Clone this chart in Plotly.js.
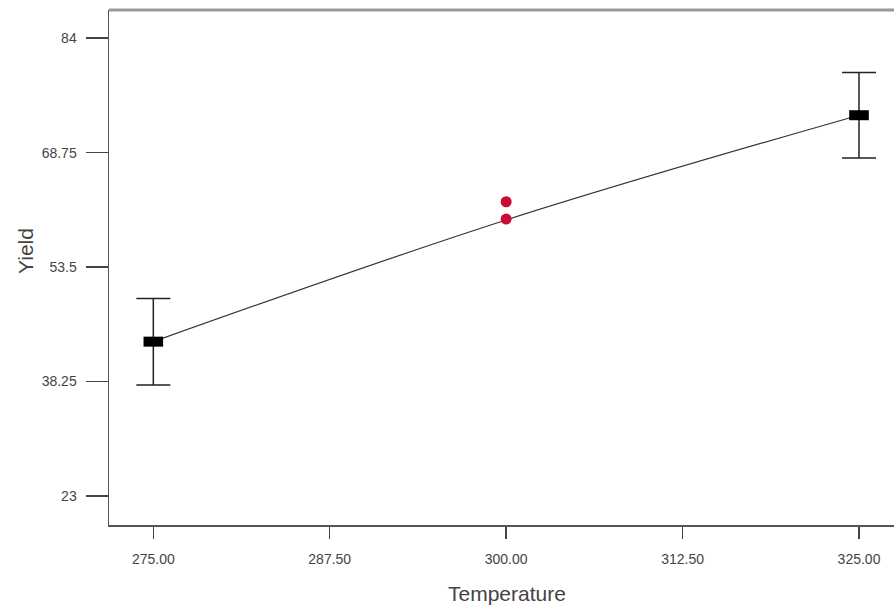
<!DOCTYPE html>
<html>
<head>
<meta charset="utf-8">
<script src="https://cdn.plot.ly/plotly-3.0.1.min.js"></script>
<style>html,body{margin:0;padding:0;background:#fff;}#chart{width:894px;height:606px;}</style>
</head>
<body>
<div id="chart"></div>
<script>
// Design points (factor levels) with mean yield and error-bar half width
const designTemps = [275, 325];
const designYield = [43.56, 73.73];
const designErr = [5.76, 5.69];

// Model prediction curve points
const curveTemps = [275, 300, 325];
const curveYield = [43.56, 59.77, 73.73];

// Observed centre points (red)
const obsTemps = [300, 300];
const obsYield = [62.2, 59.9];

// Axis ticks
const xTickVals = [275, 287.5, 300, 312.5, 325];
const xTickText = ['275.00', '287.50', '300.00', '312.50', '325.00'];
const yTickVals = [23, 38.25, 53.5, 68.75, 84];
const yTickText = ['23', '38.25', '53.5', '68.75', '84'];

const xTitle = 'Temperature';
const yTitle = 'Yield';

const traces = [
  {
    x: curveTemps, y: curveYield, type: 'scatter', mode: 'lines',
    line: {color: '#333', width: 1.2, shape: 'spline'},
    hoverinfo: 'skip', showlegend: false
  },
  {
    x: designTemps, y: designYield, type: 'scatter', mode: 'markers',
    marker: {symbol: 'line-ew', size: 14, line: {width: 10, color: '#000'}},
    error_y: {type: 'data', array: designErr, visible: true, color: '#222', thickness: 1.5, width: 17},
    showlegend: false
  },
  {
    x: obsTemps, y: obsYield, type: 'scatter', mode: 'markers',
    marker: {symbol: 'circle', size: 11, color: '#cc0a35', line: {width: 0}},
    showlegend: false
  }
];

const layout = {
  width: 894, height: 606,
  margin: {l: 109, r: 0, t: 10, b: 81},
  paper_bgcolor: '#fff', plot_bgcolor: '#fff',
  font: {family: 'Liberation Sans, Arial, sans-serif', color: '#444'},
  xaxis: {
    range: [271.86, 327.48], showgrid: false, zeroline: false,
    showline: true, linecolor: '#555', linewidth: 2,
    ticks: 'outside', ticklen: 12, tickwidth: 1.5, tickcolor: '#444',
    tickmode: 'array', tickvals: xTickVals, ticktext: xTickText,
    tickfont: {size: 14, color: '#444'}, ticklabelstandoff: 8
  },
  yaxis: {
    range: [19.13, 87.75], showgrid: false, zeroline: false,
    showline: true, linecolor: '#555', linewidth: 1.5,
    ticks: 'outside', ticklen: 22, tickwidth: 1.5, tickcolor: '#444',
    tickmode: 'array', tickvals: yTickVals, ticktext: yTickText,
    tickfont: {size: 14, color: '#444'}, ticklabelstandoff: 6
  },
  shapes: [
    {type: 'line', xref: 'paper', yref: 'paper', x0: 0, x1: 1, y0: 1, y1: 1,
     line: {color: '#9a9a9a', width: 3}}
  ],
  annotations: [
    {text: xTitle, xref: 'paper', yref: 'paper', x: (507 - 109) / 785, y: -(593 - 525) / 515,
     showarrow: false, xanchor: 'center', yanchor: 'middle',
     font: {size: 21, color: '#444'}},
    {text: yTitle, xref: 'paper', yref: 'paper', x: -(109 - 25) / 785, y: (525 - 251) / 515,
     showarrow: false, xanchor: 'center', yanchor: 'middle', textangle: -90,
     font: {size: 21, color: '#444'}}
  ]
};

Plotly.newPlot('chart', traces, layout, {staticPlot: true, displayModeBar: false});
</script>
</body>
</html>
